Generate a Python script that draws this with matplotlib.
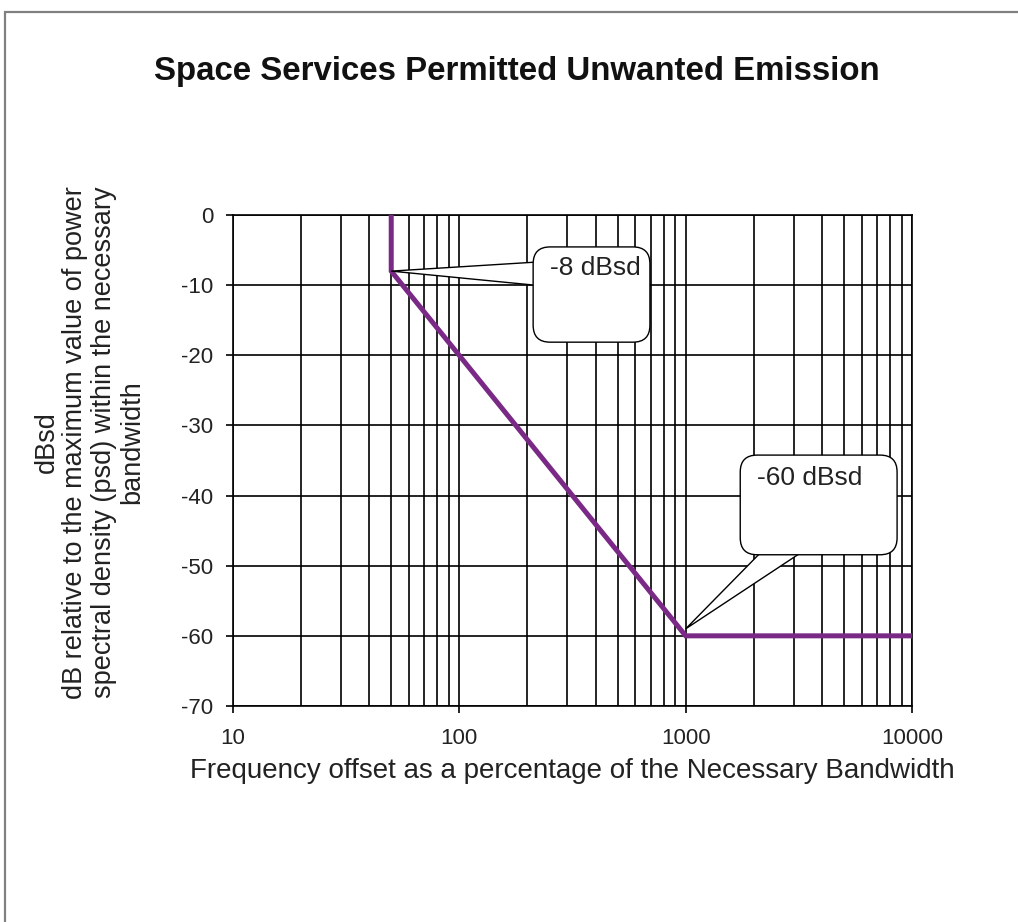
import numpy as np
import matplotlib
matplotlib.use("Agg")
import matplotlib.pyplot as plt
from matplotlib.patches import FancyBboxPatch, Polygon, Rectangle

plt.rcParams['font.family'] = ['Liberation Sans', 'DejaVu Sans']
plt.rcParams['axes.unicode_minus'] = False

# mask data: offset (% of necessary bandwidth) vs level (dBsd)
offset_pct = [50, 50, 1000, 10000]
level_dbsd = [0, -8, -60, -60]

x_ticks = [10, 100, 1000, 10000]
y_ticks = [0, -10, -20, -30, -40, -50, -60, -70]

callout_labels = ["-8 dBsd", "-60 dBsd"]
callout_points = [(50, -8), (1000, -59)]

fig = plt.figure(figsize=(10.18, 9.22), dpi=100)
ax = fig.add_axes([0.2289, 0.2343, 0.667, 0.5325])

# outer frame of the picture
fig.patches.append(Rectangle((0.0049, -0.2), 1.2, 1.187, transform=fig.transFigure,
                             fill=False, edgecolor='#808080', linewidth=1.6, clip_on=False))

ax.plot(offset_pct, level_dbsd, color='#7a2a86', linewidth=3.6, zorder=3,
        solid_joinstyle='miter')

ax.set_xscale('log')
ax.set_xlim(10, 10000)
ax.set_ylim(-70, 0)
ax.set_xticks(x_ticks)
ax.set_xticklabels([str(t) for t in x_ticks])
ax.set_yticks(y_ticks)
ax.minorticks_on()
ax.yaxis.set_minor_locator(plt.NullLocator())
ax.tick_params(axis='x', which='minor', length=0)
ax.tick_params(axis='both', which='major', length=5, width=1.2, color='black',
               labelsize=16, labelcolor='#222222')
ax.tick_params(axis='x', pad=11)
ax.tick_params(axis='y', pad=9)
ax.grid(True, which='both', axis='x', color='black', linewidth=1.2)
ax.grid(True, which='major', axis='y', color='black', linewidth=1.2)
for s in ax.spines.values():
    s.set_color('black')
    s.set_linewidth(1.2)

ax.set_xlabel("Frequency offset as a percentage of the Necessary Bandwidth",
              fontsize=20, color='#222222', labelpad=6)
fig.text(0.088, 0.52, "dBsd\ndB relative to the maximum value of power\n"
         "spectral density (psd) within the necessary\nbandwidth",
         rotation=90, ha='center', va='center', multialignment='center',
         fontsize=19.5, color='#222222', linespacing=1.13)
fig.text(0.508, 0.922, "Space Services Permitted Unwanted Emission",
         ha='center', va='center', fontsize=23.8, fontweight='bold', color='#111111')

# callout boxes (axes fractions) with wedge pointers
aspect = (0.667 * 1018) / (0.5325 * 922)
boxes = [(0.442, 0.741, 0.172, 0.194), (0.747, 0.308, 0.231, 0.203)]
bases = [[(0.445, 0.904), (0.445, 0.857)], [(0.776, 0.311), (0.835, 0.311)]]
text_pos = [(0.533, 0.892), (0.85, 0.464)]
to_axes = ax.transData + ax.transAxes.inverted()
for lab, pt, (bx, by, bw, bh), base, (tx, ty) in zip(callout_labels, callout_points,
                                                     boxes, bases, text_pos):
    tip = to_axes.transform(pt)
    ax.add_patch(Polygon([tip, base[0], base[1]], closed=True, facecolor='white',
                         edgecolor='black', linewidth=1.0, transform=ax.transAxes,
                         zorder=5, clip_on=False))
    ax.add_patch(FancyBboxPatch((bx, by), bw, bh,
                                boxstyle="round,pad=0,rounding_size=0.025",
                                mutation_aspect=aspect, facecolor='white',
                                edgecolor='black', linewidth=1.0,
                                transform=ax.transAxes, zorder=6, clip_on=False))
    # cover the seam where the pointer meets the box
    if bx < 0.5:
        seam = [base[0], base[1], (base[0][0] + 0.004, (base[0][1] + base[1][1]) / 2)]
    else:
        seam = [base[0], base[1], ((base[0][0] + base[1][0]) / 2, base[0][1] + 0.004)]
    ax.add_patch(Polygon(seam, closed=True, facecolor='white', edgecolor='none',
                         transform=ax.transAxes, zorder=7, clip_on=False))
    ax.text(tx, ty, lab, transform=ax.transAxes, ha='center', va='center',
            fontsize=19, color='#222222', zorder=8)

fig.savefig("out.png", dpi=100)
